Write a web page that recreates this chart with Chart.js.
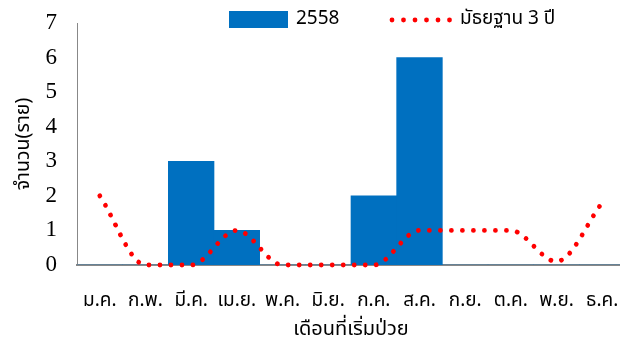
<!DOCTYPE html>
<html>
<head>
<meta charset="utf-8">
<script src="https://cdn.jsdelivr.net/npm/chart.js@4"></script>
<style>
  html, body { margin: 0; padding: 0; background: #fff; overflow: hidden; }
  #wrap { width: 620px; height: 352px; position: relative; overflow: hidden; }
  #c { display: block; }
</style>
</head>
<body>
<div id="wrap"><canvas id="c" width="625" height="352"></canvas></div>
<script>
// Monthly onset counts: current year vs. 3-year median
const months = ['ม.ค.', 'ก.พ.', 'มี.ค.', 'เม.ย.', 'พ.ค.', 'มิ.ย.', 'ก.ค.', 'ส.ค.', 'ก.ย.', 'ต.ค.', 'พ.ย.', 'ธ.ค.'];
const cases2558 = [0, 0, 3, 1, 0, 0, 2, 6, 0, 0, 0, 0];
const median3y = [2, 0, 0, 1, 0, 0, 0, 1, 1, 1, 0.1, 1.8];
const yTicks = [0, 1, 2, 3, 4, 5, 6, 7];

const seriesNames = ['2558', 'มัธยฐาน 3 ปี'];
const xTitle = 'เดือนที่เริ่มป่วย';
const yTitle = 'จำนวน(ราย)';

const thaiFont = 'Tahoma, "Noto Sans Thai", "Noto Sans", sans-serif';
const BLUE = '#0070C0';
const RED = '#FF0000';

// Legend drawn inside the top of the plot area
const topLegend = {
  id: 'topLegend',
  afterDraw(chart) {
    const ctx = chart.ctx;
    ctx.save();
    ctx.fillStyle = BLUE;
    ctx.fillRect(229, 11, 59, 17);
    ctx.font = '19px ' + thaiFont;
    ctx.fillStyle = '#000';
    ctx.textBaseline = 'middle';
    ctx.fillText(seriesNames[0], 296, 20);
    ctx.fillStyle = RED;
    for (let i = 0; i < 6; i++) {
      ctx.beginPath();
      ctx.arc(392 + i * 11.5, 20, 2.4, 0, Math.PI * 2);
      ctx.fill();
    }
    ctx.fillStyle = '#000';
    ctx.fillText(seriesNames[1], 460, 20);
    ctx.restore();
  }
};

new Chart(document.getElementById('c'), {
  data: {
    labels: months,
    datasets: [
      {
        type: 'line',
        label: seriesNames[1],
        data: median3y,
        order: 0,
        borderColor: RED,
        borderWidth: 4.8,
        borderDash: [0.01, 11],
        borderCapStyle: 'round',
        pointRadius: 0,
        fill: false,
        cubicInterpolationMode: 'monotone',
        clip: false
      },
      {
        type: 'bar',
        label: seriesNames[0],
        data: cases2558,
        order: 1,
        backgroundColor: BLUE,
        barPercentage: 1,
        categoryPercentage: 1
      }
    ]
  },
  options: {
    responsive: false,
    animation: false,
    devicePixelRatio: 1,
    layout: { padding: { top: 23, right: 0, left: 0, bottom: 0 } },
    plugins: { legend: { display: false }, tooltip: { enabled: false } },
    scales: {
      x: {
        offset: true,
        afterFit(axis) {
          axis.paddingLeft = 0;
          axis.paddingRight = 0;
          axis.height = 87;
        },
        grid: { display: false, drawTicks: false },
        border: { display: true, color: '#888', width: 2 },
        ticks: { color: '#000', font: { family: thaiFont, size: 19, lineHeight: 1 }, padding: 28, maxRotation: 0, autoSkip: false },
        title: { display: true, text: xTitle, color: '#000', font: { family: thaiFont, size: 20, lineHeight: 1 }, padding: { top: 0, bottom: 11 } }
      },
      y: {
        min: 0,
        max: 7,
        afterBuildTicks(axis) { axis.ticks = yTicks.map(v => ({ value: v })); },
        afterFit(axis) {
          axis.paddingTop = 0;
          axis.paddingBottom = 0;
          axis.width = 77;
        },
        grid: { display: false, drawTicks: false },
        border: { display: true, color: '#888', width: 1 },
        ticks: { color: '#000', font: { family: '"Liberation Serif", "Times New Roman", serif', size: 23 }, padding: 20, autoSkip: false },
        title: { display: true, text: yTitle, color: '#000', font: { family: thaiFont, size: 19.5, lineHeight: 1 }, padding: { top: 15, bottom: 0 } }
      }
    }
  },
  plugins: [topLegend]
});
</script>
</body>
</html>
